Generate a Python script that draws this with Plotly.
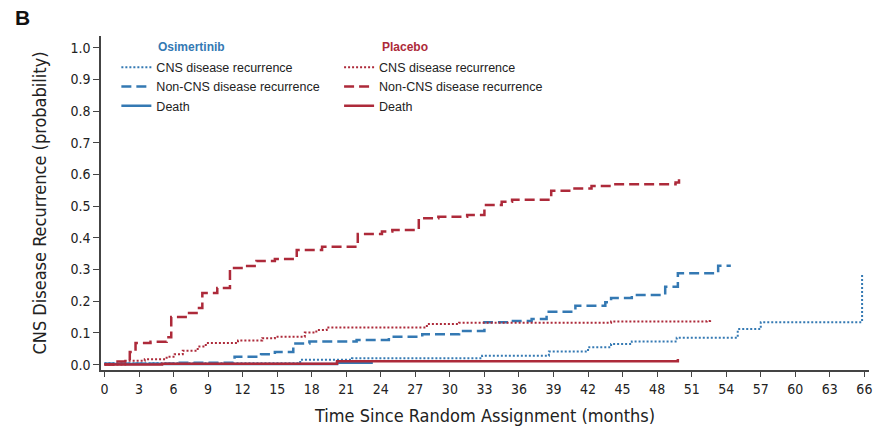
import plotly.graph_objects as go

# ---- data ----
osi_cns_t = [0, 17.0, 21.5, 32.8, 38.6, 42.0, 44.0, 45.8, 49.7, 55.0, 57.0, 65.8, 65.8]
osi_cns_p = [0.004, 0.015, 0.020, 0.028, 0.041, 0.055, 0.065, 0.073, 0.085, 0.112, 0.134, 0.134, 0.288]

osi_non_t = [0, 6.0, 11.3, 13.6, 14.8, 16.4, 17.8, 21.9, 24.7, 27.6, 30.8, 33.0, 35.1, 37.1,
             38.4, 40.9, 43.5, 44.0, 45.8, 48.7, 49.8, 53.3, 54.4]
osi_non_p = [0.003, 0.006, 0.025, 0.033, 0.040, 0.067, 0.073, 0.078, 0.088, 0.096, 0.106, 0.134,
             0.138, 0.144, 0.167, 0.186, 0.197, 0.210, 0.220, 0.246, 0.288, 0.312, 0.312]

osi_death_t = [0, 20.2, 23.0, 23.2]
osi_death_p = [0.002, 0.006, 0.006, 0.010]

pla_cns_t = [0, 1.8, 3.5, 5.4, 6.1, 6.8, 8.1, 8.8, 11.6, 13.7, 14.8, 17.4, 18.4, 19.3, 28.0,
             30.8, 44.0, 52.3, 52.6]
pla_cns_p = [0, 0.012, 0.017, 0.025, 0.033, 0.044, 0.057, 0.068, 0.076, 0.083, 0.088, 0.101,
             0.109, 0.117, 0.128, 0.132, 0.136, 0.138, 0.141]

pla_non_t = [0, 1.0, 2.2, 2.7, 4.0, 5.4, 5.8, 7.2, 8.0, 8.5, 9.8, 10.9, 12.2, 13.2, 14.8, 16.7,
             18.9, 22.0, 24.1, 25.0, 27.3, 29.0, 31.5, 33.0, 34.5, 35.4, 38.8, 40.6, 42.3, 44.0,
             49.6, 49.9]
pla_non_p = [0, 0.010, 0.040, 0.068, 0.072, 0.086, 0.150, 0.163, 0.179, 0.226, 0.242, 0.305,
             0.311, 0.327, 0.333, 0.362, 0.372, 0.412, 0.420, 0.425, 0.462, 0.467, 0.472, 0.504,
             0.514, 0.520, 0.549, 0.556, 0.564, 0.569, 0.575, 0.586]

pla_death_t = [0, 5.0, 20.2, 49.6, 49.8]
pla_death_p = [0, 0.003, 0.011, 0.011, 0.018]

x_ticks = list(range(0, 67, 3))
y_ticks = [0.0, 0.1, 0.2, 0.3, 0.4, 0.5, 0.6, 0.7, 0.8, 0.9, 1.0]

BLUE = "#3479b3"
RED = "#ad2a3a"
COND = "Liberation Sans Narrow, DejaVu Sans Condensed, Arial Narrow, sans-serif"
SANS = "Liberation Sans, Arial, Helvetica, sans-serif"

fig = go.Figure()

def add(t, p, color, dash, width, name, legend):
    fig.add_trace(go.Scatter(x=t, y=p, mode="lines", line=dict(color=color, dash=dash, width=width, shape="hv"),
                             name=name, legend=legend))

add(osi_cns_t, osi_cns_p, BLUE, "2px,2px", 2, "CNS disease recurrence", "legend")
add(osi_non_t, osi_non_p, BLUE, "10px,5px", 2.5, "Non-CNS disease recurrence", "legend")
add(osi_death_t, osi_death_p, BLUE, "solid", 2.5, "Death", "legend")
add(pla_cns_t, pla_cns_p, RED, "2px,2px", 2, "CNS disease recurrence", "legend2")
add(pla_non_t, pla_non_p, RED, "10px,5px", 2.5, "Non-CNS disease recurrence", "legend2")
add(pla_death_t, pla_death_p, RED, "solid", 2.5, "Death", "legend2")

leg_common = dict(font=dict(family=SANS, size=12.5, color="#222"), bgcolor="rgba(0,0,0,0)",
                  xanchor="left", yanchor="top", tracegroupgap=0, itemwidth=30)
fig.update_layout(
    width=879, height=430,
    margin=dict(l=101, r=7, t=36, b=60),
    paper_bgcolor="white", plot_bgcolor="white",
    legend=dict(x=0.02, y=0.95, **leg_common),
    legend2=dict(x=0.31, y=0.95, **leg_common),
    xaxis=dict(range=[-0.3, 66.4], tickvals=x_ticks, ticktext=[str(v) for v in x_ticks],
               showgrid=False, zeroline=False, showline=True, linecolor="#444", linewidth=1.5,
               ticks="outside", ticklen=5, tickcolor="#444", tickwidth=1.2,
               tickfont=dict(family=COND, size=14, color="#222"),
               title=dict(text="Time Since Random Assignment (months)",
                          font=dict(family=COND, size=18, color="#222"), standoff=14)),
    yaxis=dict(range=[-0.017, 1.037], tickvals=y_ticks, ticktext=["%.1f" % v for v in y_ticks],
               showgrid=False, zeroline=False, showline=True, linecolor="#444", linewidth=1.5,
               ticks="outside", ticklen=6, tickcolor="#444", tickwidth=1.2,
               tickfont=dict(family=COND, size=14, color="#222"),
               title=dict(text="CNS Disease Recurrence (probability)",
                          font=dict(family=COND, size=18, color="#222"), standoff=19)),
    annotations=[
        dict(text="<b>B</b>", xref="paper", yref="paper", x=-0.115, y=1.097, xanchor="left",
             yanchor="top", showarrow=False, font=dict(family=SANS, size=21, color="#111")),
        dict(text="<b>Osimertinib</b>", xref="paper", yref="paper", x=0.072, y=0.94,
             xanchor="left", yanchor="bottom", showarrow=False,
             font=dict(family=SANS, size=12, color=BLUE)),
        dict(text="<b>Placebo</b>", xref="paper", yref="paper", x=0.363, y=0.94,
             xanchor="left", yanchor="bottom", showarrow=False,
             font=dict(family=SANS, size=12, color=RED)),
    ],
)

fig.write_html("out.html", config={"displayModeBar": False},
               post_script="document.body.style.margin='0';")
